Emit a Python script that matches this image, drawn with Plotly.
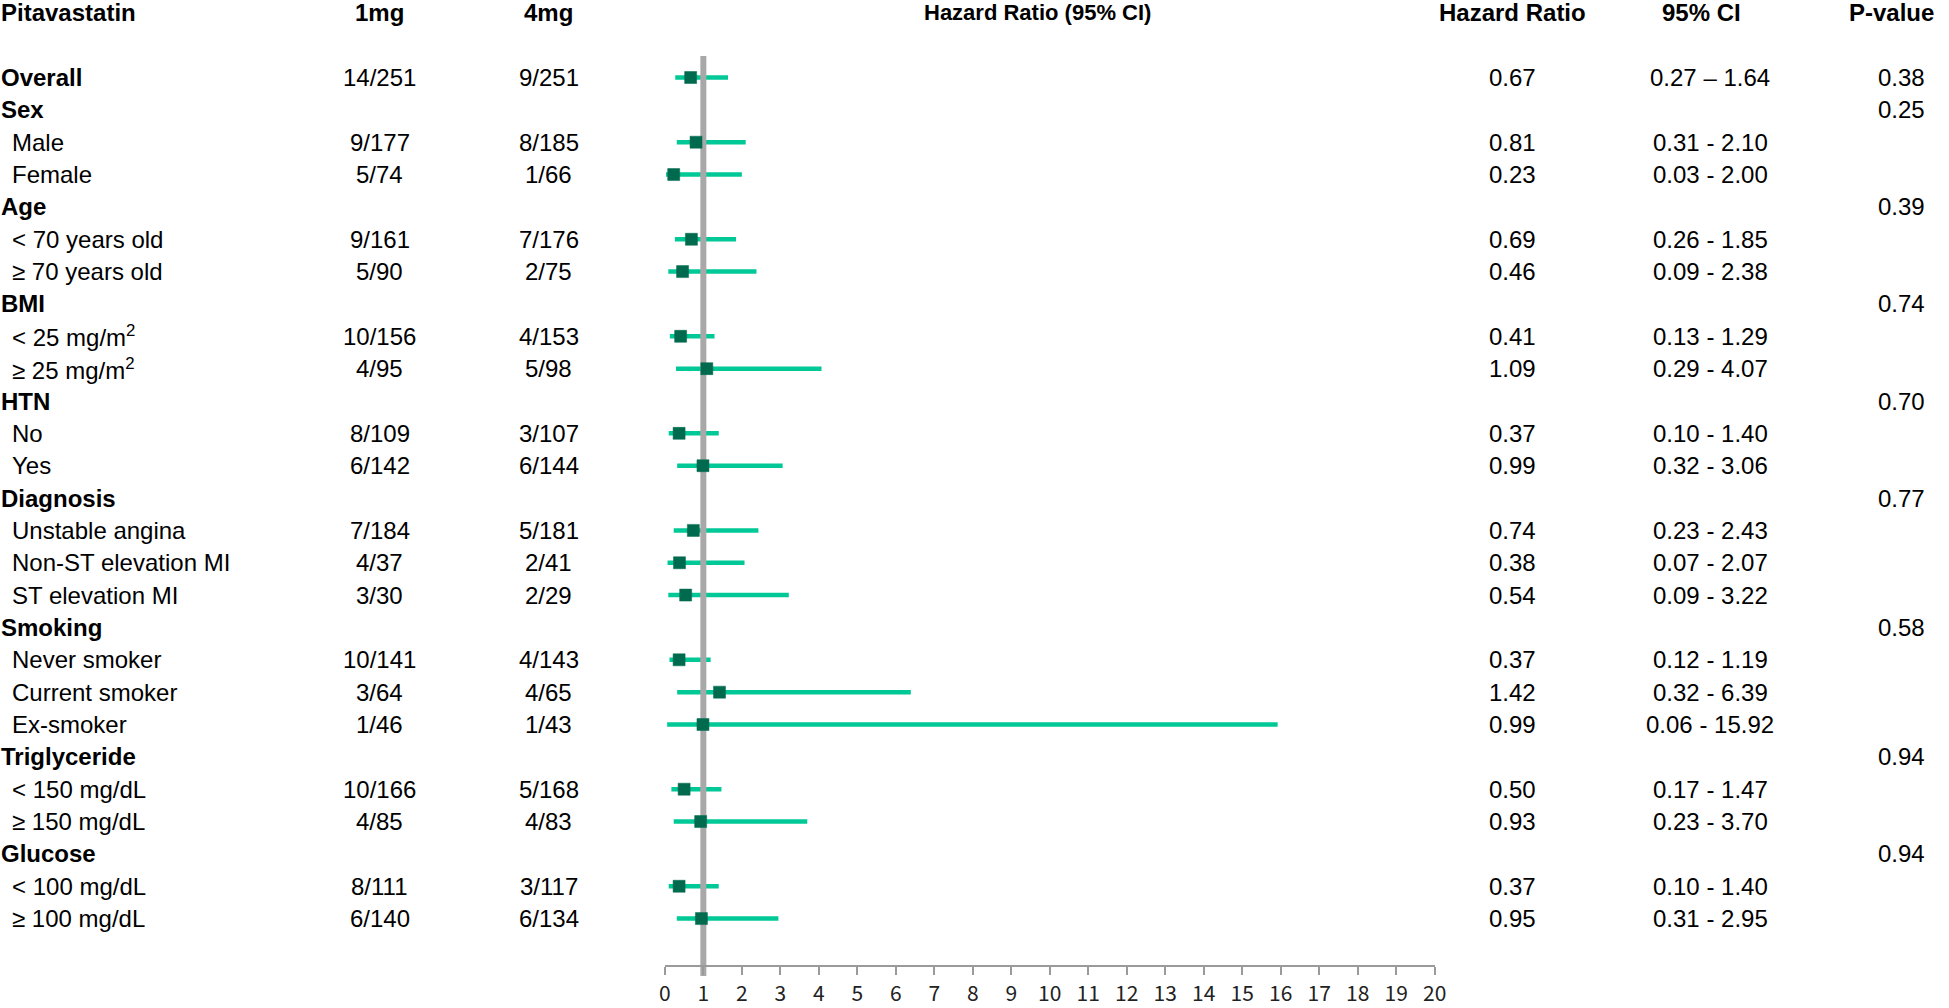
import plotly.graph_objects as go

# ---------------- data ----------------
labels = ["Overall", "Sex", "Male", "Female", "Age", "< 70 years old", "≥ 70 years old",
          "BMI", "< 25 mg/m<sup>2</sup>", "≥ 25 mg/m<sup>2</sup>", "HTN", "No", "Yes",
          "Diagnosis", "Unstable angina", "Non-ST elevation MI", "ST elevation MI",
          "Smoking", "Never smoker", "Current smoker", "Ex-smoker",
          "Triglyceride", "< 150 mg/dL", "≥ 150 mg/dL", "Glucose", "< 100 mg/dL", "≥ 100 mg/dL"]
is_group = [True, True, False, False, True, False, False, True, False, False, True, False, False,
            True, False, False, False, True, False, False, False, True, False, False, True, False, False]
events_1mg = ["14/251", "", "9/177", "5/74", "", "9/161", "5/90", "", "10/156", "4/95", "",
              "8/109", "6/142", "", "7/184", "4/37", "3/30", "", "10/141", "3/64", "1/46", "",
              "10/166", "4/85", "", "8/111", "6/140"]
events_4mg = ["9/251", "", "8/185", "1/66", "", "7/176", "2/75", "", "4/153", "5/98", "",
              "3/107", "6/144", "", "5/181", "2/41", "2/29", "", "4/143", "4/65", "1/43", "",
              "5/168", "4/83", "", "3/117", "6/134"]
hr = [0.67, None, 0.81, 0.23, None, 0.69, 0.46, None, 0.41, 1.09, None, 0.37, 0.99, None,
      0.74, 0.38, 0.54, None, 0.37, 1.42, 0.99, None, 0.50, 0.93, None, 0.37, 0.95]
ci_lo = [0.27, None, 0.31, 0.03, None, 0.26, 0.09, None, 0.13, 0.29, None, 0.10, 0.32, None,
         0.23, 0.07, 0.09, None, 0.12, 0.32, 0.06, None, 0.17, 0.23, None, 0.10, 0.31]
ci_hi = [1.64, None, 2.10, 2.00, None, 1.85, 2.38, None, 1.29, 4.07, None, 1.40, 3.06, None,
         2.43, 2.07, 3.22, None, 1.19, 6.39, 15.92, None, 1.47, 3.70, None, 1.40, 2.95]
ci_sep = ["–"] + ["-"] * 26
p_values = ["0.38", "0.25", "", "", "0.39", "", "", "0.74", "", "", "0.70", "", "", "0.77",
            "", "", "", "0.58", "", "", "", "0.94", "", "", "0.94", "", ""]
x_ticks = list(range(0, 21))
headers = ["Pitavastatin", "1mg", "4mg", "Hazard Ratio (95% CI)", "Hazard Ratio", "95% CI", "P-value"]

# ---------------- layout constants (pixels) ----------------
W, H = 1949, 1008
ROW0_PX, ROW_STEP = 77.5, 32.35
AX_L_PX, AX_R_PX, AX_Y_PX = 665.0, 1442.0, 966.0
HEADER_PX = 13
COL_GROUP, COL_SUB = -7, 4
COL_1MG, COL_4MG = 377, 548
COL_TITLE = 1041
COL_HR, COL_CI_H, COL_CI, COL_P_H, COL_P = 1521, 1711, 1720, 1903, 1913
FONT_STD = "Liberation Sans, Arial"
FONT_TICK = "Noto Sans CJK KR, Liberation Sans, Arial"
FS = 24
TEAL = "#00C896"
DARK = "#006A4E"
REFGRAY = "#A8A8A8"
AXGRAY = "#9A9A9A"

def px_x(px):
    return px / W

def px_row(px):
    return (px - ROW0_PX) / ROW_STEP

n = len(labels)
rows = list(range(n))

fig = go.Figure()

# CI lines
lx, ly = [], []
for i in rows:
    if hr[i] is not None:
        lx += [ci_lo[i], ci_hi[i], None]
        ly += [i, i, None]
fig.add_trace(go.Scatter(x=lx, y=ly, mode="lines", line=dict(color=TEAL, width=4.5),
                         hoverinfo="skip", showlegend=False))

# reference line at HR = 1
fig.add_trace(go.Scatter(x=[1, 1], y=[px_row(56), px_row(AX_Y_PX + 10)], mode="lines",
                         line=dict(color=REFGRAY, width=6), hoverinfo="skip", showlegend=False))

# point estimates
mx = [hr[i] for i in rows if hr[i] is not None]
my = [i for i in rows if hr[i] is not None]
fig.add_trace(go.Scatter(x=mx, y=my, mode="markers",
                         marker=dict(symbol="square", size=12, color=DARK,
                                     line=dict(color=DARK, width=0.5)),
                         showlegend=False))

ann = []
def add(text, xpx, y, anchor="center", bold=False, family=FONT_STD, size=FS, yref="y"):
    t = f"<b>{text}</b>" if bold else text
    ann.append(dict(text=t, x=px_x(xpx), xref="paper", y=y, yref=yref,
                    xanchor=anchor, yanchor="middle", showarrow=False,
                    font=dict(family=family, size=size, color="#000000")))

hy = 1 - HEADER_PX / H
add(headers[0], COL_GROUP, hy, "left", True, yref="paper")
add(headers[1], COL_1MG, hy, "center", True, yref="paper")
add(headers[2], COL_4MG, hy, "center", True, yref="paper")
add(headers[3], COL_TITLE, hy, "center", True, FONT_STD, 22, "paper")
add(headers[4], COL_HR, hy, "center", True, yref="paper")
add(headers[5], COL_CI_H, hy, "center", True, yref="paper")
add(headers[6], COL_P_H, hy, "center", True, yref="paper")

for i in rows:
    if is_group[i]:
        add(labels[i], COL_GROUP, i, "left", True)
    else:
        add(labels[i], COL_SUB, i, "left", False)
    if events_1mg[i]:
        add(events_1mg[i], COL_1MG, i)
    if events_4mg[i]:
        add(events_4mg[i], COL_4MG, i)
    if hr[i] is not None:
        add(f"{hr[i]:.2f}", COL_HR, i)
        add(f"{ci_lo[i]:.2f} {ci_sep[i]} {ci_hi[i]:.2f}", COL_CI, i)
    if p_values[i]:
        add(p_values[i], COL_P, i)

fig.update_layout(
    width=W, height=H, margin=dict(l=0, r=0, t=0, b=0),
    paper_bgcolor="white", plot_bgcolor="white", showlegend=False,
    annotations=ann,
    xaxis=dict(range=[0, 20], domain=[px_x(AX_L_PX), px_x(AX_R_PX)],
               tickvals=x_ticks, ticktext=[str(t) for t in x_ticks],
               ticks="outside", ticklen=8, tickcolor=AXGRAY, tickwidth=1.5,
               showline=True, linecolor=AXGRAY, linewidth=1.5,
               showgrid=False, zeroline=False, anchor="free", position=1 - AX_Y_PX / H,
               ticklabelstandoff=1,
               tickfont=dict(family=FONT_TICK, size=21, color="#222222"), fixedrange=True),
    yaxis=dict(range=[px_row(H), px_row(0)], domain=[0, 1], visible=False,
               showgrid=False, zeroline=False, fixedrange=True),
)

fig.write_html("out.html", config={"displayModeBar": False},
               post_script="document.body.style.margin='0';document.body.style.overflow='hidden';")
